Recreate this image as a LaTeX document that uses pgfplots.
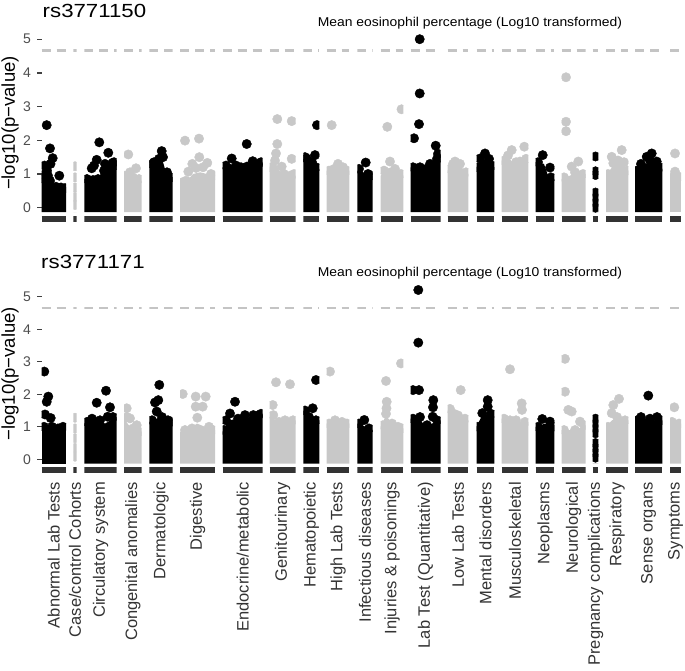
\documentclass[border=0pt]{standalone}
\usepackage{fontspec}
\setmainfont{Liberation Sans}
\usepackage{pgfplots}
\pgfplotsset{compat=1.18}
\definecolor{ptg}{HTML}{C8C8C8}
\definecolor{stripc}{HTML}{333333}
\definecolor{thrc}{HTML}{C4C4C4}
\definecolor{tickc}{HTML}{4D4D4D}
\pgfplotsset{
  ftop/.style={scale only axis, hide axis, anchor=south west, ymin=-0.45, ymax=5.22, height=191.08pt, clip marker paths=true, xtick=\empty, ytick=\empty},
  fbot/.style={scale only axis, hide axis, anchor=south west, ymin=-0.45, ymax=5.46, height=192.075pt, clip marker paths=true, xtick=\empty, ytick=\empty},
  fstyle/.style={ftop},
}
\def\fy{-222.865pt}
\newcommand\facet[5]{%
  \pgfmathsetmacro\fw{#2-#1}%
  \begin{axis}[fstyle, at={(#1pt,\fy)}, width=\fw pt, xmin=#1, xmax=#2]
    \addplot[fill=#3,draw=none] coordinates {(#1,-0.13) #4 (#2,-0.13)} -- cycle;
    \addplot[#3,only marks,mark=*,mark size=4.7pt] coordinates {#5};
    \addplot[stripc,line width=6pt] coordinates {(#1,-0.33)(#2,-0.33)};
    \addplot[thrc,line width=2.6pt,dash pattern=on 9pt off 6pt] coordinates {(#1,4.66)(#2,4.66)};
  \end{axis}}
\pgfplotsset{panel/.style={
  scale only axis, width=643.3pt, xmin=41.7, xmax=685, ymin=-0.2,
  clip=false, axis lines*=left, axis line style={draw=none},
  ytick={0,1,2,3,4,5}, tick align=outside, major tick length=4.2pt,
  major y tick style={line width=1.3pt,color=black!75},
  major x tick style={draw=none},
  /pgf/number format/assume math mode=true,
  yticklabel style={font=\fontsize{14}{15}\selectfont,color=tickc,inner sep=0pt,xshift=-6.5pt},
  ylabel={−log10(p−value)},
  every axis y label/.style={at={(axis description cs:-0.0493,0.5)},rotate=90,anchor=center,font=\fontsize{18.5}{20}\selectfont},
}}
\begin{document}
\begin{tikzpicture}
\path[use as bounding box] (0pt,0pt) rectangle (685pt,-670pt);
\node[anchor=base west,inner sep=0pt,font=\fontsize{19}{22}\selectfont,xscale=1.17] at (42.5pt,-17pt) {rs3771150};
\node[anchor=base west,inner sep=0pt,font=\fontsize{19}{22}\selectfont,xscale=1.17] at (41pt,-268.3pt) {rs3771171};
% ---------- top panel frame ----------
\begin{axis}[panel, at={(41.7pt,-214.4pt)}, anchor=south west, height=182.65pt, ymax=5.22, xtick=\empty]
\node[font=\fontsize{12.8}{15}\selectfont,xscale=1.085] at (axis cs:470,5.48) {Mean eosinophil percentage (Log10 transformed)};
\end{axis}
% ---------- top panel facets ----------
\facet{41.7}{66}{black}{(41.7,0.85)(50,0.85)(54,0.68)(66,0.62)}{(44,0.85)(50,0.8)(56,0.62)(61,0.6)(65,0.58)(44.5,1.25)(47,1.1)(50.5,1.3)(44,0.98)(48,0.95)(50,1.76)(52.7,1.47)(46.7,2.45)(59.3,0.95)}
\facet{73.3}{76.7}{ptg}{}{(75,1.23)(75,0.9)(75,0.6)(75,0.32)(75,0.08)}
\facet{84.3}{116.7}{black}{(84.3,0.85)(99,0.85)(102,1.15)(116.7,1.25)}{(87,0.85)(93,0.82)(98,0.85)(104,1.1)(110,1.2)(115,1.25)(99.3,1.94)(108.3,1.63)(96.7,1.42)(91.7,1.17)(112.7,1.33)(94,1.25)(105,1.3)(114,1.35)}
\facet{124}{141.7}{ptg}{(124,0.95)(130,0.85)(141.7,0.8)}{(128.3,1.58)(136,1.17)(130,1.05)(125,0.95)(133,0.9)(139,0.85)}
\facet{149.3}{172.7}{black}{(149.3,1.3)(157,1.35)(162,1.45)(166,1.05)(172.7,0.9)}{(152,1.3)(157,1.35)(161.7,1.68)(163,1.5)(159,1.45)(167,1.05)(171,0.9)(154,1.35)}
\facet{180}{215}{ptg}{(180,0.72)(187,0.8)(193,1.0)(200,1.05)(207,1.0)(215,0.95)}{(185,1.99)(199,2.05)(199.3,1.5)(207.3,1.33)(192.3,1.3)(188.3,1.07)(196,1.18)(203,1.2)(182,0.75)(186,0.8)(211,1.0)(214,0.95)}
\facet{222.7}{262.7}{black}{(222.7,1.2)(230,1.3)(237,1.2)(245,1.15)(252,1.3)(262.7,1.3)}{(246.7,1.89)(231.7,1.46)(252.7,1.38)(226,1.25)(236,1.25)(241,1.2)(247,1.22)(258,1.3)(261,1.35)}
\facet{269.5}{295.7}{ptg}{(269.5,1.2)(274,1.45)(279,1.1)(286,0.95)(295.7,0.95)}{(277.3,2.63)(291.7,2.57)(277.3,1.89)(291.7,1.45)(276,1.61)(281.7,1.22)(271,1.2)(284,1.0)(290,0.95)(294,1.0)(275,1.4)}
\facet{303.3}{319.3}{black}{(303.3,1.45)(309,1.3)(313,1.15)(319.3,1.15)}{(317,2.45)(315,1.56)(306.7,1.46)(305,1.5)(310,1.25)(316,1.2)(312,1.35)}
\facet{326.7}{349.3}{ptg}{(326.7,1.1)(333,1.15)(340,1.2)(349.3,1.1)}{(331.7,2.45)(338,1.3)(329,1.1)(334,1.15)(343,1.2)(347,1.1)}
\facet{357.3}{372.7}{black}{(357.3,1.1)(363,1.05)(372.7,0.95)}{(365.7,1.34)(359,1.15)(368,1.0)(371,0.95)}
\facet{380.7}{403.3}{ptg}{(380.7,0.95)(386,1.15)(392,1.2)(398,1.05)(403.3,0.95)}{(387.3,2.40)(401.5,2.92)(390,1.37)(384,1.1)(395,1.15)(401,1.0)}
\facet{410.7}{440.7}{black}{(410.7,1.2)(426,1.2)(431,1.3)(436,1.6)(440.7,1.6)}{(419.7,5.0)(419.7,3.39)(419,2.48)(414,2.06)(435.7,1.84)(430,1.3)(413,1.2)(420,1.2)(426,1.15)(438,1.6)(437,1.45)}
\facet{447.7}{468.3}{ptg}{(447.7,1.1)(452,1.3)(458,1.3)(463,1.15)(468.3,1.0)}{(455,1.37)(450,1.15)(460,1.3)(466,1.05)(453,1.3)}
\facet{476.5}{494.3}{black}{(476.5,1.2)(482,1.45)(489,1.4)(494.3,1.2)}{(485,1.61)(480,1.46)(489,1.45)(492,1.25)(478,1.2)}
\facet{501.7}{528.3}{ptg}{(501.7,1.4)(508,1.5)(514,1.3)(520,1.4)(528.3,1.35)}{(511.7,1.71)(524.3,1.81)(520,1.37)(504,1.4)(508,1.55)(516,1.35)(526,1.45)}
\facet{535.7}{554.3}{black}{(535.7,1.35)(544,1.3)(548,0.95)(554.3,0.85)}{(542.7,1.56)(550,1.19)(538,1.35)(551,0.9)}
\facet{561.7}{585.7}{ptg}{(561.7,0.85)(570,0.95)(577,1.1)(585.7,1.0)}{(566,3.87)(566,2.55)(566,2.27)(571.7,1.22)(578.3,1.37)(564,0.9)(575,1.05)(583,1.0)}
\facet{592.7}{598.3}{black}{}{(595.5,1.52)(595.5,1.08)(595.5,0.97)(595.5,0.45)(595.5,0.3)(595.5,0.15)(595.5,0.0)}
\facet{606}{628.3}{ptg}{(606,0.95)(612,1.2)(620,1.4)(628.3,1.1)}{(621.7,1.71)(611.7,1.51)(613.3,1.32)(608,1.0)(618,1.4)(624,1.35)(627,1.1)}
\facet{635}{662.3}{black}{(635,1.05)(645,1.3)(655,1.3)(662.3,1.15)}{(651.7,1.61)(646.7,1.51)(656.7,1.37)(641,1.3)(637,1.1)(660,1.2)(650,1.4)}
\facet{670}{681}{ptg}{(670,0.9)(681,0.9)}{(675,1.61)(675,1.07)(672,0.9)(679,0.92)}
% ---------- bottom panel frame ----------
\begin{axis}[panel, at={(41.7pt,-465.8pt)}, anchor=south west, height=183.95pt, ymax=5.46,
  xtick={53.85,75,100.5,132.85,161,197.5,242.7,282.6,311.3,338,365,392,425.7,458,485.4,515,545,573.7,595.5,617.15,648.65,675.5},
  xticklabels={{Abnormal Lab Tests},{Case/control Cohorts},{Circulatory system},{Congenital anomalies},{Dermatologic},{Digestive},{Endocrine/metabolic},{Genitourinary},{Hematopoietic},{High Lab Tests},{Infectious diseases},{Injuries \& poisonings},{Lab Test (Quantitative)},{Low Lab Tests},{Mental disorders},{Musculoskeletal},{Neoplasms},{Neurological},{Pregnancy complications},{Respiratory},{Sense organs},{Symptoms}},
  xticklabel style={rotate=90,anchor=east,inner sep=0pt,font=\fontsize{16.5}{18}\selectfont,color=black!80},
  xticklabel shift=12pt]
\node[font=\fontsize{12.8}{15}\selectfont,xscale=1.085] at (axis cs:470,5.72) {Mean eosinophil percentage (Log10 transformed)};
\end{axis}
% ---------- bottom panel facets ----------
\pgfplotsset{fstyle/.style={fbot}}
\def\fy{-473.925pt}
\facet{41.7}{66}{black}{(41.7,0.95)(66,0.95)}{(44.3,2.70)(48.3,1.93)(46.7,1.77)(45,1.38)(50.7,1.27)(44,1.0)(52,1.0)(58,0.95)(63,1.0)}
\facet{73.3}{76.7}{ptg}{}{(75,1.28)(75,0.95)(75,0.65)(75,0.35)(75,0.08)}
\facet{84.3}{116.7}{black}{(84.3,1.1)(95,1.25)(105,1.1)(116.7,1.3)}{(106,2.11)(96.7,1.74)(110,1.60)(107.7,1.31)(87,1.15)(92,1.25)(100,1.2)(113,1.3)}
\facet{124}{141.7}{ptg}{(124,1.25)(130,1.0)(141.7,0.85)}{(126.7,1.57)(136.7,1.05)(130,1.26)(127,1.3)(133,0.95)(139,0.85)}
\facet{149.3}{172.7}{black}{(149.3,1.15)(160,1.3)(172.7,1.15)}{(159.3,2.29)(158.3,1.82)(155,1.75)(156.7,1.47)(152,1.2)(162,1.3)(168,1.2)(171,1.15)}
\facet{180}{215}{ptg}{(180,0.85)(190,0.95)(197,1.1)(205,1.0)(215,0.9)}{(182.7,2.01)(195.7,1.93)(205.7,1.93)(195.7,1.62)(202.7,1.62)(197.3,1.28)(185,0.9)(192,0.95)(209,1.0)(213,0.9)}
\facet{222.7}{262.7}{black}{(222.7,0.85)(228,1.2)(240,1.25)(250,1.3)(262.7,1.35)}{(235,1.77)(230,1.41)(245,1.36)(253.3,1.36)(226,1.2)(238,1.25)(258,1.35)(261,1.4)(224,0.9)}
\facet{269.5}{295.7}{ptg}{(269.5,1.3)(280,1.15)(290,1.2)(295.7,1.2)}{(276,2.37)(290,2.31)(272.7,1.67)(273.3,1.36)(279,1.15)(285,1.2)(293,1.2)}
\facet{303.3}{319.3}{black}{(303.3,1.5)(310,1.3)(319.3,1.2)}{(316,2.44)(312.7,1.57)(305,1.5)(309,1.3)(316,1.2)}
\facet{326.7}{349.3}{ptg}{(326.7,1.1)(335,1.2)(349.3,1.1)}{(330,2.70)(329,1.1)(335,1.2)(342,1.15)(347,1.1)}
\facet{357.3}{372.7}{black}{(357.3,1.1)(362,1.05)(372.7,0.9)}{(364.3,1.21)(359,1.1)(369,0.95)}
\facet{380.7}{403.3}{ptg}{(380.7,1.0)(386,1.35)(392,1.1)(403.3,0.95)}{(386,2.41)(401,2.95)(386.7,1.77)(386.5,1.57)(386,1.4)(383,1.05)(392,1.1)(398,1.0)(402,0.95)}
\facet{410.7}{440.7}{black}{(410.7,1.25)(419,1.3)(425,1.0)(432,1.1)(440.7,1.2)}{(418.3,5.21)(418.3,3.59)(413,2.13)(419,2.13)(433.3,1.82)(433,1.6)(432.7,1.31)(413,1.25)(420,1.3)(427,1.05)(437,1.2)}
\facet{447.7}{468.3}{ptg}{(447.7,1.5)(455,1.35)(462,1.3)(468.3,1.2)}{(460.7,2.13)(450,1.55)(454,1.4)(458,1.35)(465,1.25)}
\facet{476.5}{494.3}{black}{(476.5,1.0)(482,1.35)(490,1.4)(494.3,1.3)}{(487.7,1.82)(487.7,1.62)(482.3,1.42)(478,1.0)(491,1.4)}
\facet{501.7}{528.3}{ptg}{(501.7,1.25)(512,1.2)(520,1.15)(528.3,1.15)}{(510,2.77)(521.7,1.72)(522,1.52)(504,1.25)(510,1.2)(516,1.2)(525,1.15)}
\facet{535.7}{554.3}{black}{(535.7,1.0)(545,1.1)(554.3,1.05)}{(542.3,1.24)(550,1.16)(538,1.0)(553,1.0)}
\facet{561.7}{585.7}{ptg}{(561.7,0.9)(575,0.9)(585.7,1.05)}{(565,3.09)(565,2.08)(568.3,1.52)(571.7,1.47)(580,1.16)(564,0.9)(575,0.9)(584,1.05)}
\facet{592.7}{598.3}{black}{}{(595.5,1.25)(595.5,1.1)(595.5,0.95)(595.5,0.8)(595.5,0.5)(595.5,0.35)(595.5,0.2)(595.5,0.05)}
\facet{606}{628.3}{ptg}{(606,1.0)(612,1.2)(620,1.3)(628.3,1.2)}{(619,1.86)(613.3,1.67)(611.7,1.42)(608,1.0)(617,1.3)(625,1.2)}
\facet{635}{662.3}{black}{(635,1.2)(645,1.25)(655,1.2)(662.3,1.2)}{(648.3,1.96)(641,1.3)(657,1.3)(637,1.2)(650,1.25)(661,1.2)}
\facet{670}{681}{ptg}{(670,1.15)(681,1.1)}{(674.3,1.60)(672,1.15)(679,1.1)}
\end{tikzpicture}
\end{document}
